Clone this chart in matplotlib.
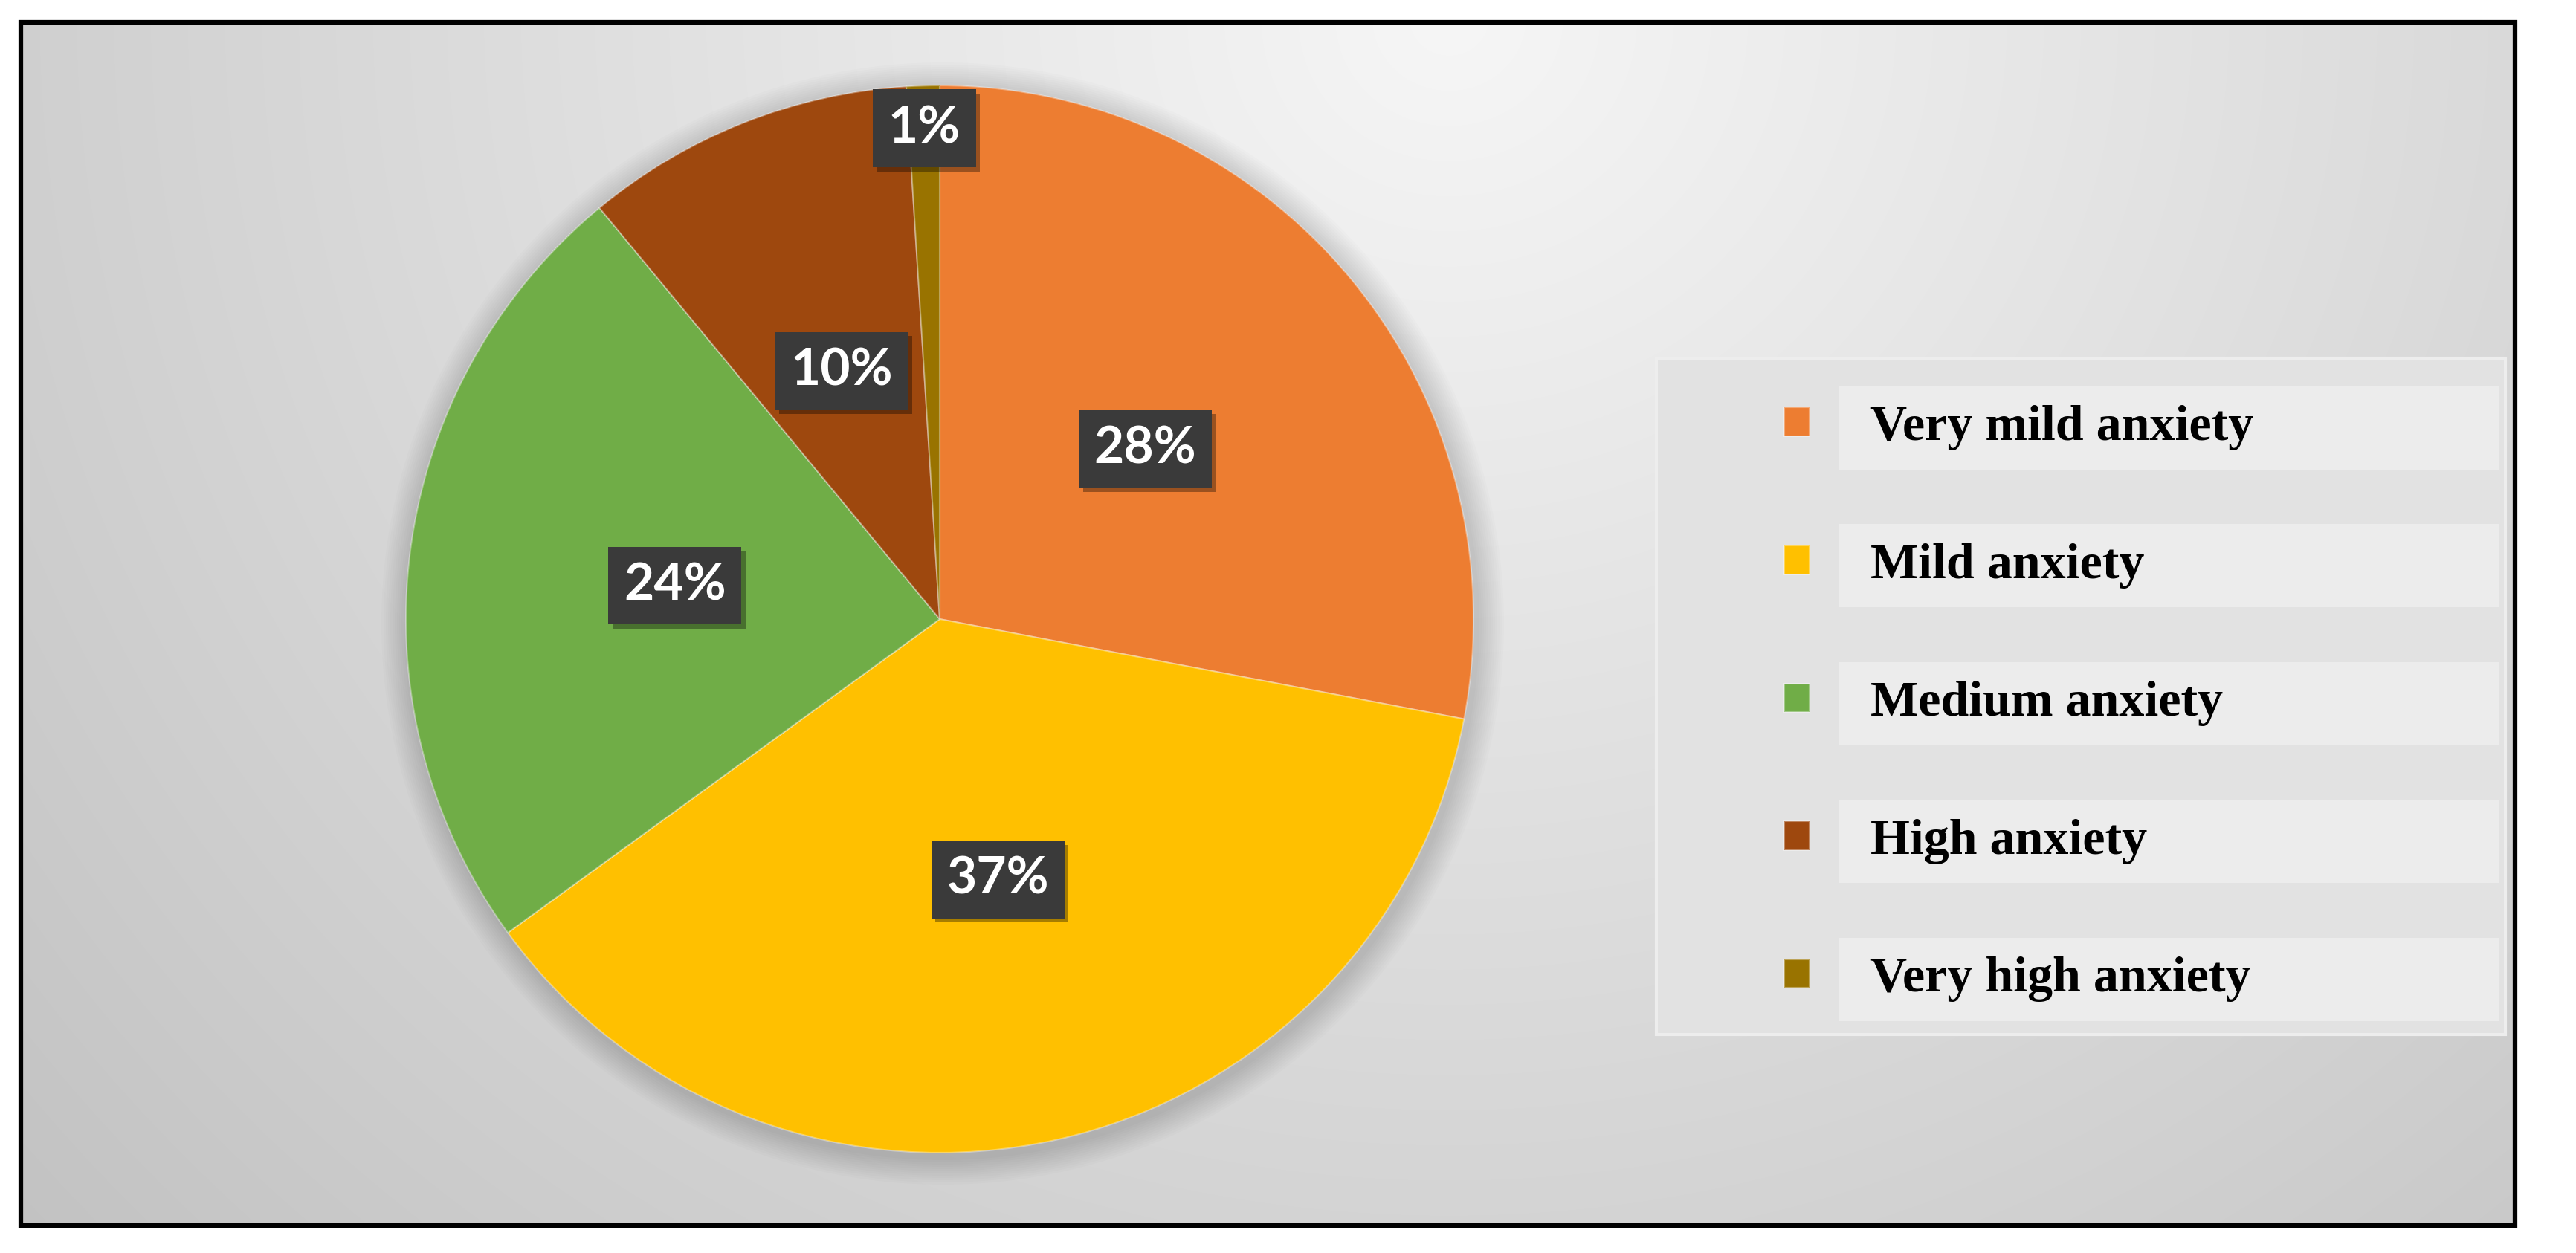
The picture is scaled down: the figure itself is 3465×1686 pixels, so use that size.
import matplotlib
matplotlib.use('Agg')
import matplotlib.pyplot as plt
import matplotlib.patheffects as pe
from matplotlib.patches import Rectangle, Circle
import numpy as np

# data
categories = ['Very mild anxiety', 'Mild anxiety', 'Medium anxiety',
              'High anxiety', 'Very high anxiety']
values = [28, 37, 24, 10, 1]
colors = ['#ED7D31', '#FFC000', '#70AD47', '#9E480E', '#997300']

W, H = 3466, 1686
fig = plt.figure(figsize=(W / 100, H / 100), dpi=100)
fig.patch.set_facecolor('white')
ax = fig.add_axes([0, 0, 1, 1])

# frame of the picture (pixel coords, y from top)
x0, x1 = 28, 3383
yt, yb = 30, 1649

# background gradient, light near the top middle
xx, yy = np.meshgrid(np.linspace(x0, x1, 400), np.linspace(yt, yb, 200))
d = np.sqrt(((xx - 1950) / 2100.0) ** 2 + ((yy - 20) / 2000.0) ** 2)
g = np.clip(0.965 - 0.165 * d, 0.76, 1.0)
ax.imshow(np.dstack([g, g, g]), extent=(x0, x1, H - yb, H - yt),
          origin='upper', zorder=0, interpolation='bicubic')
ax.add_patch(Rectangle((x0, H - yb), x1 - x0, yb - yt, fill=False,
                       ec='black', lw=4.5, zorder=10))

# pie
cx, cy, R = 1264, H - 833, 718
for k in range(12):
    ax.add_patch(Circle((cx + 4, cy - 6), R + 4 + 3 * k, fc='black',
                        ec='none', alpha=0.012, zorder=1))

wedges, texts, autotexts = ax.pie(
    values, colors=colors, startangle=90, counterclock=False,
    center=(cx, cy), radius=R, autopct='%1.0f%%', pctdistance=0.5,
    wedgeprops=dict(edgecolor=(1, 1, 1, 0.35), linewidth=1.5),
    textprops=dict(color='white', fontsize=50, fontweight='bold',
                   family='Lato'))
for w in wedges:
    w.set_zorder(2)

# move the 1% label out near the rim
w = wedges[-1]
mid = np.deg2rad((w.theta1 + w.theta2) / 2)
autotexts[-1].set_position((cx + 0.92 * R * np.cos(mid), cy + 0.92 * R * np.sin(mid)))

for t in autotexts:
    t.set_zorder(6)
    t.set_bbox(dict(boxstyle='square,pad=0.3', fc='#3a3a3a', ec='none'))
    t.get_bbox_patch().set_path_effects(
        [pe.SimplePatchShadow(offset=(4, -4), shadow_rgbFace='black', alpha=0.35),
         pe.Normal()])

ax.set_xlim(0, W)
ax.set_ylim(0, H)
ax.axis('off')

# legend
leg = ax.legend(wedges, categories, loc='upper left',
                bbox_to_anchor=(2400, H - 545), bbox_transform=ax.transData,
                frameon=False, borderpad=0, borderaxespad=0,
                handlelength=0.5, handleheight=0.5, handletextpad=1.2,
                labelspacing=1.83,
                prop=dict(family='Liberation Serif', weight='bold', size=49))
leg.set_zorder(8)

fig.canvas.draw()
# legend panel and the lighter strips behind each entry
ax.add_patch(Rectangle((2228, H - 1392), 3370 - 2228, 1392 - 482,
                       fc='#e2e2e2', ec='#ededed', lw=3, zorder=3))
for t in leg.get_texts():
    bb = t.get_window_extent()
    ym = (bb.y0 + bb.y1) / 2
    ax.add_patch(Rectangle((bb.x0 - 42, ym - 56), 3362 - (bb.x0 - 42), 112,
                           fc='#ececec', ec='none', zorder=4))

fig.savefig('out.png', dpi=100)
